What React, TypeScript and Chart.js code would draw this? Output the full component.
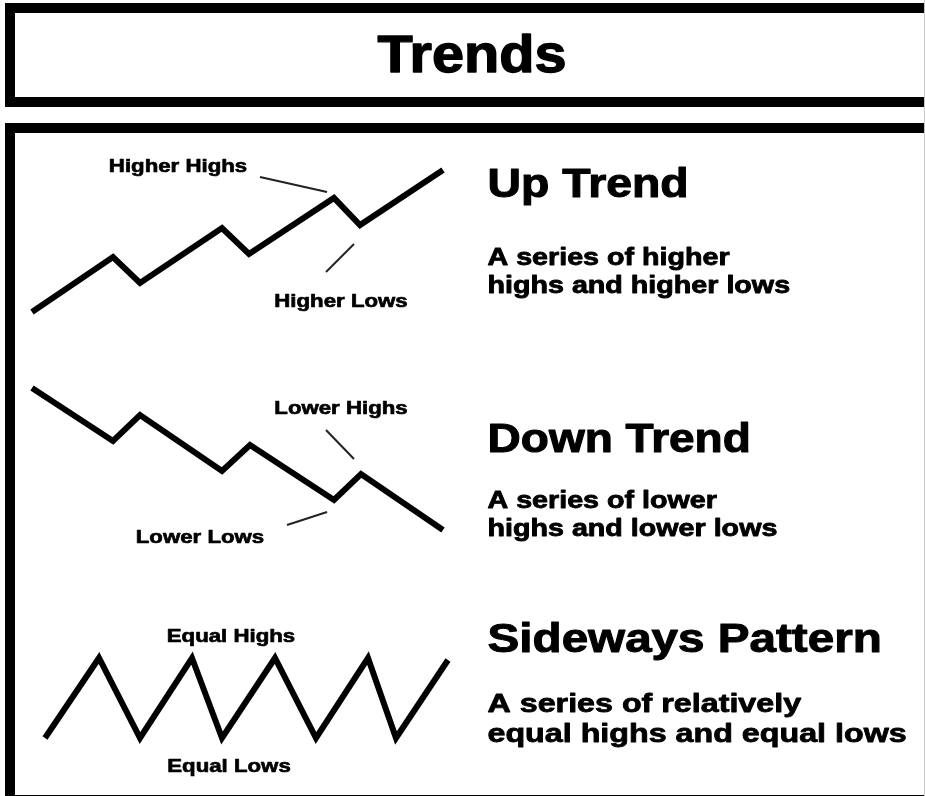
import { useEffect, useRef } from "react";
import { Chart, registerables } from "chart.js";

Chart.register(...registerables);

// ---- Diagram data (page units) ----
const upTrendX = [32, 113, 140, 222, 249, 334, 360, 443];
const upTrendY = [312, 257, 283, 228, 254, 198, 225, 170];

const downTrendX = [32, 113, 140, 222, 250, 334, 361, 443];
const downTrendY = [388, 441, 415, 471, 445, 500, 474, 530];

const sidewaysX = [45, 99, 140, 192, 222, 275, 316, 368, 396, 448];
const sidewaysY = [738, 658, 738, 658, 738, 658, 738, 658, 738, 660];

const higherHighsPtrX = [260, 327];
const higherHighsPtrY = [177, 192];
const higherLowsPtrX = [354, 326];
const higherLowsPtrY = [244, 272];
const lowerHighsPtrX = [326, 354];
const lowerHighsPtrY = [430, 459];
const lowerLowsPtrX = [287, 327];
const lowerLowsPtrY = [525, 512];

const titleText = "Trends";
const headings = ["Up Trend", "Down Trend", "Sideways Pattern"];
const descriptions = [
  ["A series of higher", "highs and higher lows"],
  ["A series of lower", "highs and lower lows"],
  ["A series of relatively", "equal highs and equal lows"],
];
const pointLabels = ["Higher Highs", "Higher Lows", "Lower Highs", "Lower Lows", "Equal Highs", "Equal Lows"];

// ---- Layout (positions / styles) ----
const W = 925;
const H = 796;
const FONT = '"Liberation Sans", Arial, Helvetica, sans-serif';

const headingPos = [
  { x: 487, y: 197, sx: 1.16 },
  { x: 487, y: 452, sx: 1.15 },
  { x: 487, y: 652, sx: 1.19 },
];
const descPos = [
  { x: 487, y: 265, size: 24.5, sx: 1.17, gap: 28 },
  { x: 487, y: 508, size: 24.5, sx: 1.17, gap: 28 },
  { x: 487, y: 712, size: 26, sx: 1.24, gap: 30 },
];
const pointLabelPos = [
  { x: 178, y: 172 },
  { x: 341, y: 307 },
  { x: 341, y: 414 },
  { x: 200, y: 543 },
  { x: 231, y: 642 },
  { x: 229, y: 772 },
];

const pts = (xs: number[], ys: number[]) => xs.map((x, i) => ({ x, y: ys[i] }));

function drawText(
  ctx: CanvasRenderingContext2D,
  text: string,
  x: number,
  y: number,
  size: number,
  align: "left" | "center",
  sx: number,
  stroke: number
) {
  ctx.save();
  ctx.font = `bold ${size}px ${FONT}`;
  ctx.textAlign = "left";
  ctx.textBaseline = "alphabetic";
  ctx.fillStyle = "#000";
  ctx.strokeStyle = "#000";
  ctx.lineJoin = "round";
  const w = (ctx.measureText(text).width * sx) + stroke;
  const x0 = align === "center" ? x - w / 2 : x;
  ctx.translate(x0 + stroke / 2, y);
  ctx.scale(sx, 1);
  ctx.fillText(text, 0, 0);
  if (stroke > 0) {
    ctx.lineWidth = stroke / sx;
    ctx.strokeText(text, 0, 0);
  }
  ctx.restore();
}

const diagramPlugin = {
  id: "diagram",
  beforeDatasetsDraw(chart: any) {
    const ctx: CanvasRenderingContext2D = chart.ctx;
    const xs = chart.scales.x;
    const ys = chart.scales.y;
    const px = (v: number) => xs.getPixelForValue(v);
    const py = (v: number) => ys.getPixelForValue(v);
    ctx.save();
    ctx.strokeStyle = "#000";
    ctx.lineWidth = 10;
    ctx.lineJoin = "miter";
    // title box
    ctx.strokeRect(px(10), py(8), px(940) - px(10), py(102) - py(8));
    // main box
    ctx.strokeRect(px(10), py(128), px(940) - px(10), py(800) - py(128));
    // faint right edge
    ctx.lineWidth = 1;
    ctx.strokeStyle = "#c8c8c8";
    ctx.beginPath();
    ctx.moveTo(px(924.5), py(0));
    ctx.lineTo(px(924.5), py(796));
    ctx.stroke();
    ctx.restore();
  },
  afterDatasetsDraw(chart: any) {
    const ctx: CanvasRenderingContext2D = chart.ctx;
    const xs = chart.scales.x;
    const ys = chart.scales.y;
    const px = (v: number) => xs.getPixelForValue(v);
    const py = (v: number) => ys.getPixelForValue(v);
    drawText(ctx, titleText, px(472), py(72), 51, "center", 1.13, 1.5);
    headings.forEach((t, i) =>
      drawText(ctx, t, px(headingPos[i].x), py(headingPos[i].y), 40, "left", headingPos[i].sx, 1.2)
    );
    descriptions.forEach((lines, i) =>
      lines.forEach((t, j) => {
        const d = descPos[i];
        drawText(ctx, t, px(d.x), py(d.y + j * d.gap), d.size, "left", d.sx, 1);
      })
    );
    pointLabels.forEach((t, i) =>
      drawText(ctx, t, px(pointLabelPos[i].x), py(pointLabelPos[i].y), 19, "center", 1.17, 0.8)
    );
  },
};

export default function App() {
  const ref = useRef<HTMLCanvasElement>(null);
  useEffect(() => {
    if (!ref.current) return;
    const thick = (data: any) => ({
      data,
      showLine: true,
      borderColor: "#000",
      borderWidth: 6,
      borderJoinStyle: "miter",
      borderCapStyle: "butt",
      pointRadius: 0,
      fill: false,
      tension: 0,
    });
    const thin = (data: any) => ({
      data,
      showLine: true,
      borderColor: "#222",
      borderWidth: 2,
      pointRadius: 0,
      fill: false,
      tension: 0,
    });
    const chart = new Chart(ref.current, {
      type: "scatter",
      data: {
        datasets: [
          thick(pts(upTrendX, upTrendY)),
          thick(pts(downTrendX, downTrendY)),
          thick(pts(sidewaysX, sidewaysY)),
          thin(pts(higherHighsPtrX, higherHighsPtrY)),
          thin(pts(higherLowsPtrX, higherLowsPtrY)),
          thin(pts(lowerHighsPtrX, lowerHighsPtrY)),
          thin(pts(lowerLowsPtrX, lowerLowsPtrY)),
        ] as any,
      },
      options: {
        animation: false,
        responsive: false,
        maintainAspectRatio: false,
        layout: { padding: 0 },
        plugins: { legend: { display: false }, tooltip: { enabled: false } },
        scales: {
          x: { type: "linear", min: 0, max: W, display: false },
          y: { type: "linear", min: 0, max: H, reverse: true, display: false },
        },
      },
      plugins: [diagramPlugin],
    });
    return () => chart.destroy();
  }, []);
  return (
    <div style={{ position: "absolute", left: 0, top: 0, width: W, height: H, background: "#fff" }}>
      <canvas ref={ref} width={W} height={H} style={{ width: W, height: H, display: "block" }} />
    </div>
  );
}
